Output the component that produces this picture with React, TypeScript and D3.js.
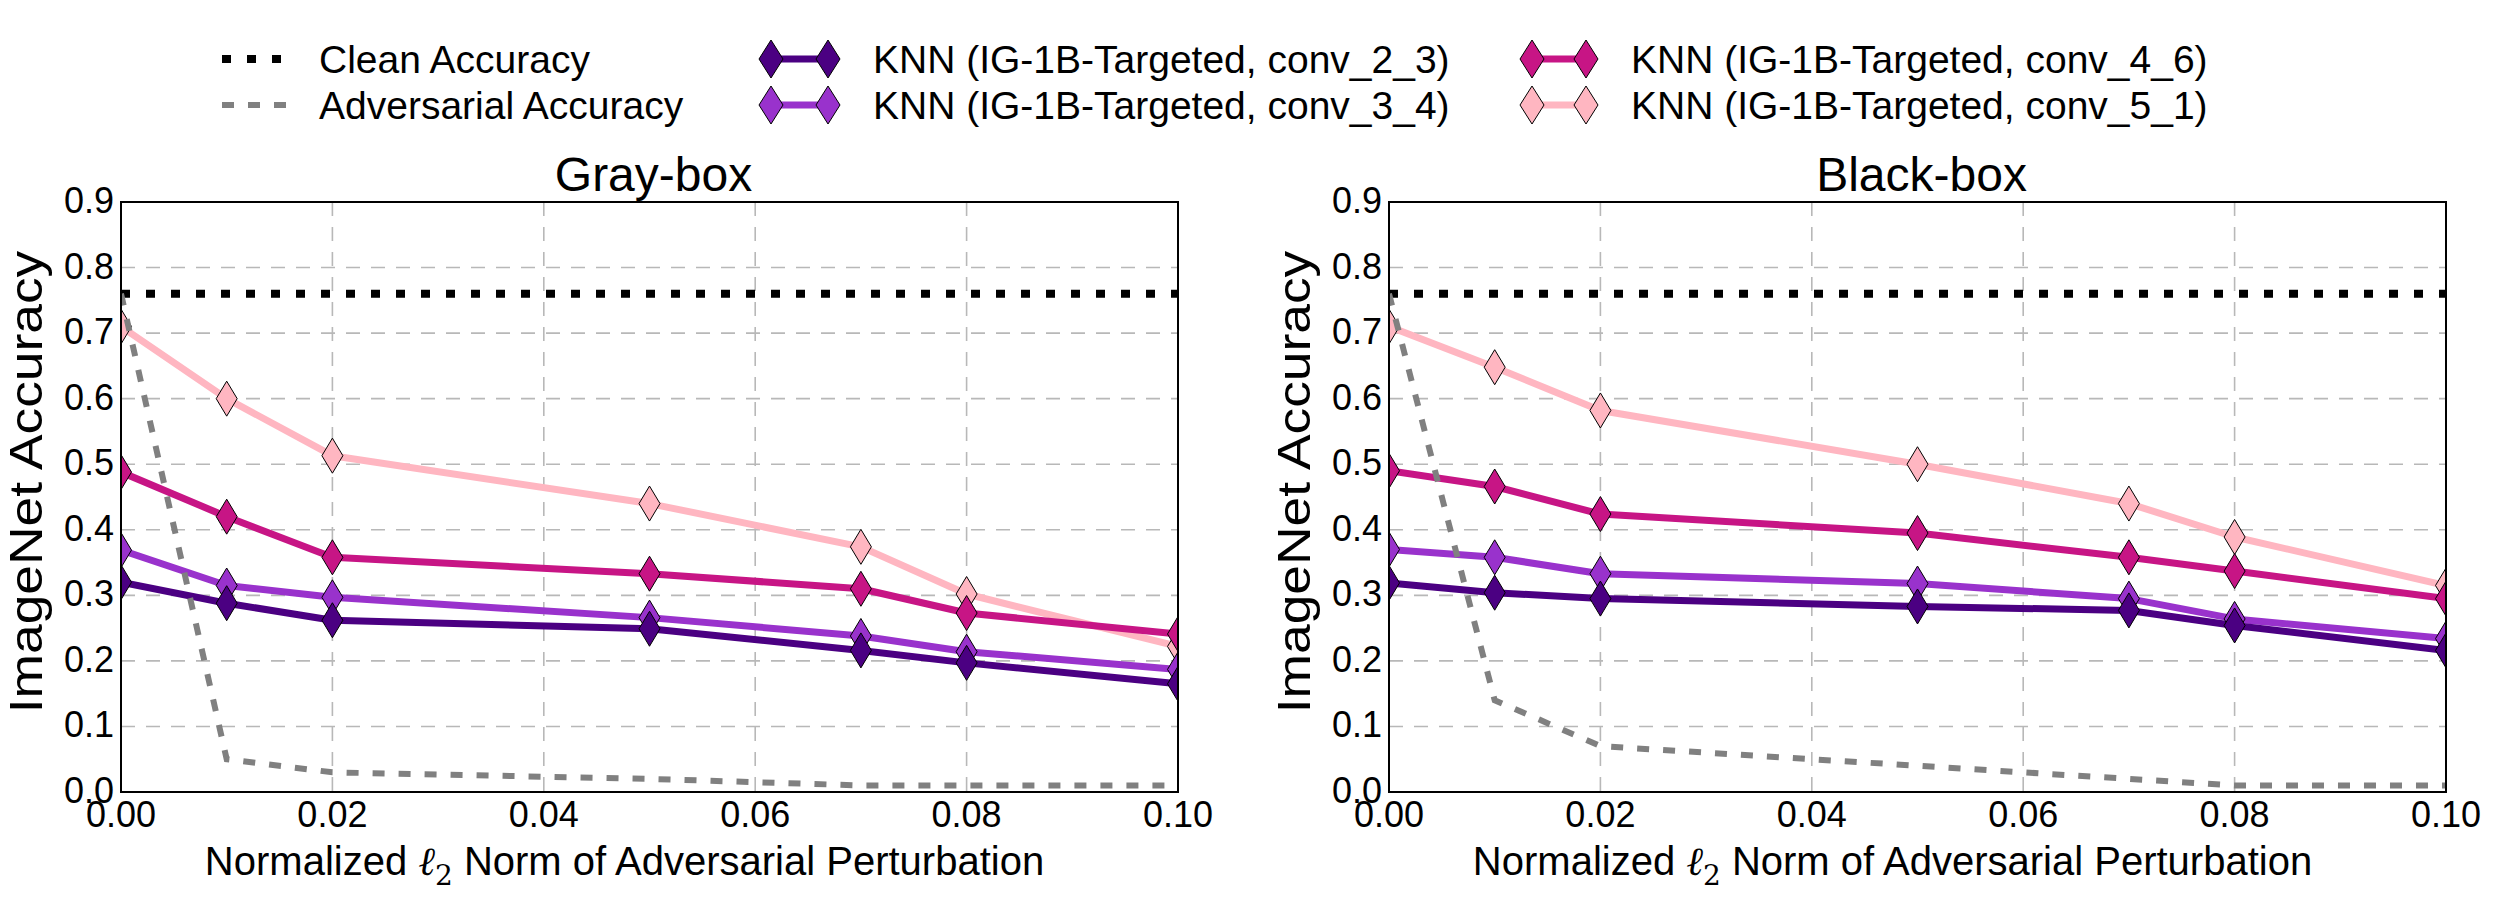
import React from "react";
import * as d3 from "d3";

const W = 2497;
const H = 905;

// ---- data ----
const X_VALUES = [0, 0.01, 0.02, 0.05, 0.07, 0.08, 0.1];
const X_TICKS = [0, 0.02, 0.04, 0.06, 0.08, 0.1];
const Y_TICKS = [0, 0.1, 0.2, 0.3, 0.4, 0.5, 0.6, 0.7, 0.8, 0.9];
const CLEAN_ACC = 0.76;

const GRAY_ADV = [0.76, 0.05, 0.03, 0.02, 0.01, 0.01, 0.01];
const GRAY_CONV23 = [0.32, 0.288, 0.262, 0.249, 0.216, 0.197, 0.165];
const GRAY_CONV34 = [0.369, 0.315, 0.297, 0.266, 0.238, 0.214, 0.187];
const GRAY_CONV46 = [0.488, 0.42, 0.358, 0.333, 0.31, 0.273, 0.241];
const GRAY_CONV51 = [0.71, 0.6, 0.513, 0.44, 0.374, 0.302, 0.222];

const BLACK_ADV = [0.76, 0.14, 0.07, 0.04, 0.02, 0.01, 0.01];
const BLACK_CONV23 = [0.319, 0.304, 0.295, 0.283, 0.277, 0.254, 0.216];
const BLACK_CONV34 = [0.37, 0.358, 0.333, 0.318, 0.295, 0.264, 0.234];
const BLACK_CONV46 = [0.49, 0.466, 0.424, 0.395, 0.358, 0.337, 0.295];
const BLACK_CONV51 = [0.71, 0.648, 0.582, 0.5, 0.44, 0.389, 0.315];

const SERIES_LABELS = [
  "KNN (IG-1B-Targeted, conv_2_3)",
  "KNN (IG-1B-Targeted, conv_3_4)",
  "KNN (IG-1B-Targeted, conv_4_6)",
  "KNN (IG-1B-Targeted, conv_5_1)",
];
const SERIES_COLORS = ["#4B0082", "#9932CC", "#C71585", "#FFB6C1"];
const PANEL_TITLES = ["Gray-box", "Black-box"];

const FONT = "'Liberation Sans', Arial, Helvetica, sans-serif";

const PLOT_Y0 = 202;
const PLOT_Y1 = 792;
const PANEL_X = [
  [121, 1178],
  [1389, 2446],
];

function diamondPath(cx: number, cy: number, w = 10.5, h = 17.5) {
  return `M${cx},${cy - h}L${cx + w},${cy}L${cx},${cy + h}L${cx - w},${cy}Z`;
}

function Panel({ idx, title, adv, series }: { idx: number; title: string; adv: number[]; series: number[][] }) {
  const [x0, x1] = PANEL_X[idx];
  const xs = d3.scaleLinear().domain([0, 0.1]).range([x0, x1]);
  const ys = d3.scaleLinear().domain([0, 0.9]).range([PLOT_Y1, PLOT_Y0]);
  const line = d3
    .line<[number, number]>()
    .x((d) => xs(d[0]))
    .y((d) => ys(d[1]));
  const clipId = `clip-${idx}`;
  const cx = (x0 + x1) / 2;
  const cy = (PLOT_Y0 + PLOT_Y1) / 2;
  const order = [3, 2, 1, 0];
  return (
    <g>
      <defs>
        <clipPath id={clipId}>
          <rect x={x0} y={PLOT_Y0} width={x1 - x0} height={PLOT_Y1 - PLOT_Y0} />
        </clipPath>
      </defs>
      {/* grid */}
      {Y_TICKS.filter((t) => t > 0 && t < 0.9).map((t) => (
        <line key={"gy" + t} x1={x0} x2={x1} y1={ys(t)} y2={ys(t)} stroke="#b8b8b8" strokeWidth={1.6} strokeDasharray="14 11" />
      ))}
      {X_TICKS.filter((t) => t > 0 && t < 0.1).map((t) => (
        <line key={"gx" + t} x1={xs(t)} x2={xs(t)} y1={PLOT_Y0} y2={PLOT_Y1} stroke="#b8b8b8" strokeWidth={1.6} strokeDasharray="14 11" />
      ))}
      <g clipPath={`url(#${clipId})`}>
        <line x1={x0} x2={x1} y1={ys(CLEAN_ACC)} y2={ys(CLEAN_ACC)} stroke="#000" strokeWidth={8} strokeDasharray="9 16" />
        {order.map((si) => (
          <path
            key={"l" + si}
            d={line(X_VALUES.map((x, i) => [x, series[si][i]]) as [number, number][]) || ""}
            fill="none"
            stroke={SERIES_COLORS[si]}
            strokeWidth={7}
            strokeLinejoin="round"
          />
        ))}
        {order.map((si) => (
          <g key={"m" + si}>
            {X_VALUES.map((x, i) => (
              <path key={i} d={diamondPath(xs(x), ys(series[si][i]))} fill={SERIES_COLORS[si]} stroke="#000" strokeWidth={1} />
            ))}
          </g>
        ))}
        <path
          d={line(X_VALUES.map((x, i) => [x, adv[i]]) as [number, number][]) || ""}
          fill="none"
          stroke="#808080"
          strokeWidth={6}
          strokeDasharray="12 14"
        />
      </g>
      {/* frame */}
      <rect x={x0} y={PLOT_Y0} width={x1 - x0} height={PLOT_Y1 - PLOT_Y0} fill="none" stroke="#000" strokeWidth={2} />
      {/* tick labels */}
      {Y_TICKS.map((t) => (
        <text key={"yt" + t} x={x0 - 7} y={ys(t) + 11} textAnchor="end" fontSize={36} fontFamily={FONT}>
          {t.toFixed(1)}
        </text>
      ))}
      {X_TICKS.map((t) => (
        <text key={"xt" + t} x={xs(t)} y={827} textAnchor="middle" fontSize={36} fontFamily={FONT}>
          {t.toFixed(2)}
        </text>
      ))}
      {/* title */}
      <text x={cx + 4} y={191} textAnchor="middle" fontSize={48} fontFamily={FONT}>
        {title}
      </text>
      {/* y label */}
      <text
        transform={`translate(${x0 - 79},${cy - 15}) rotate(-90) scale(1.16,1)`}
        textAnchor="middle"
        fontSize={46}
        fontFamily={FONT}
      >
        ImageNet Accuracy
      </text>
      {/* x label */}
      <text x={cx - 25} y={875} textAnchor="middle" fontSize={40} fontFamily={FONT}>
        <tspan>Normalized </tspan>
        <tspan fontFamily="'DejaVu Serif', serif" fontStyle="italic">ℓ</tspan>
        <tspan fontFamily="'DejaVu Serif', serif" fontSize={28} dy={10}>2</tspan>
        <tspan dy={-10}> Norm of Adversarial Perturbation</tspan>
      </text>
    </g>
  );
}

function Legend() {
  const row = [59, 105];
  const fs = 39;
  const items: React.ReactNode[] = [];
  items.push(
    <g key="c1">
      <line x1={222} x2={287} y1={row[0]} y2={row[0]} stroke="#000" strokeWidth={8} strokeDasharray="9 16" />
      <text x={319} y={row[0] + 14} fontSize={fs} fontFamily={FONT}>Clean Accuracy</text>
      <line x1={222} x2={287} y1={row[1]} y2={row[1]} stroke="#808080" strokeWidth={6} strokeDasharray="12 14" />
      <text x={319} y={row[1] + 14} fontSize={fs} fontFamily={FONT}>Adversarial Accuracy</text>
    </g>
  );
  const cols = [
    { m1: 771, m2: 828, tx: 873 },
    { m1: 1532, m2: 1586, tx: 1631 },
  ];
  SERIES_LABELS.forEach((lab, si) => {
    const c = cols[Math.floor(si / 2)];
    const y = row[si % 2];
    items.push(
      <g key={"s" + si}>
        <line x1={c.m1} x2={c.m2} y1={y} y2={y} stroke={SERIES_COLORS[si]} strokeWidth={7} />
        <path d={diamondPath(c.m1, y, 12, 19)} fill={SERIES_COLORS[si]} stroke="#000" strokeWidth={1} />
        <path d={diamondPath(c.m2, y, 12, 19)} fill={SERIES_COLORS[si]} stroke="#000" strokeWidth={1} />
        <text x={c.tx} y={y + 14} fontSize={fs} fontFamily={FONT}>{lab}</text>
      </g>
    );
  });
  return <g>{items}</g>;
}

export default function App() {
  return (
    <div style={{ position: "absolute", left: 0, top: 0 }}>
      <svg width={W} height={H} viewBox={`0 0 ${W} ${H}`} style={{ display: "block", background: "#fff" }}>
        <rect x={0} y={0} width={W} height={H} fill="#fff" />
        <Legend />
        <Panel idx={0} title={PANEL_TITLES[0]} adv={GRAY_ADV} series={[GRAY_CONV23, GRAY_CONV34, GRAY_CONV46, GRAY_CONV51]} />
        <Panel idx={1} title={PANEL_TITLES[1]} adv={BLACK_ADV} series={[BLACK_CONV23, BLACK_CONV34, BLACK_CONV46, BLACK_CONV51]} />
      </svg>
    </div>
  );
}
